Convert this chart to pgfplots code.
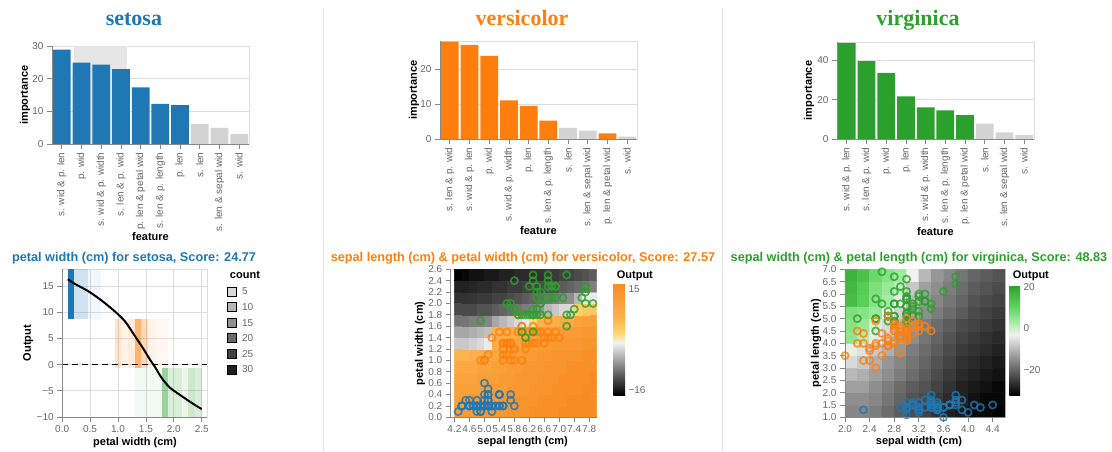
\documentclass[border=0pt]{standalone}
\usepackage{fontspec}
\setmainfont{Liberation Sans}
\newfontfamily\serif{Liberation Serif}
\usepackage{pgfplots}
\usepackage{pgfplotstable}
\pgfplotsset{compat=1.18}
\usetikzlibrary{calc}

\definecolor{setc}{RGB}{31,119,180}
\definecolor{verc}{RGB}{255,127,14}
\definecolor{virc}{RGB}{44,160,44}
\definecolor{barg}{RGB}{211,211,211}
\definecolor{gridc}{RGB}{221,221,221}
\definecolor{domc}{RGB}{136,136,136}
\definecolor{labc}{RGB}{102,102,102}
\definecolor{band}{RGB}{230,230,230}
\definecolor{sepc}{RGB}{228,228,228}

\newcommand\tickfont{\fontsize{10}{12}\selectfont}
\newcommand\labfont{\fontsize{11}{13}\selectfont\bfseries}
\newcommand\ttlfont{\fontsize{22}{26}\selectfont\serif\bfseries}
\newcommand\subfont{\fontsize{12.7}{15}\selectfont\bfseries}

\pgfplotsset{
  base/.style={
    scale only axis,
    axis line style={draw=gridc, line width=0.8pt},
    tick style={draw=domc, line width=0.8pt},
    tick align=outside, major tick length=5pt,
    tick pos=left,
    ticklabel style={font=\tickfont, text=labc},
    label style={font=\labfont},
    grid style={draw=gridc, line width=0.8pt},
    title style={anchor=base, yshift=-6pt},
    colorbar shift/.style={},
    after end axis/.code={\draw[domc, line width=0.8pt] (rel axis cs:0,1) -- (rel axis cs:0,0) -- (rel axis cs:1,0);},
  },
  barax/.style={
    base, width=197pt, xmin=-0.5, xmax=9.5, ymin=0, ymajorgrids,
    xtick={0,1,2,3,4,5,6,7,8,9},
    xticklabel style={rotate=90, anchor=east},
    xlabel=feature, ylabel=importance,
    title style={font=\ttlfont},
  },
  bars/.style={ybar, bar width=0.9, bar shift=0pt, draw=none, fill=#1},
  pts/.style={only marks, mark=o, mark size=3.6pt, mark options={draw=#1, draw opacity=0.8, line width=1.7pt, fill=none}},
  cnt/.style={legend image code/.code={\fill[black, fill opacity=#1] (0pt,-3.5pt) rectangle (9pt,5.5pt); \path (14.5pt,0pt);}},
}

\pgfplotstableread{
sl sw pl pw
5.1 3.5 1.4 0.2
4.9 3.0 1.4 0.2
4.7 3.2 1.3 0.2
4.6 3.1 1.5 0.2
5.0 3.6 1.4 0.2
5.4 3.9 1.7 0.4
4.6 3.4 1.4 0.3
5.0 3.4 1.5 0.2
4.4 2.9 1.4 0.2
4.9 3.1 1.5 0.1
5.4 3.7 1.5 0.2
4.8 3.4 1.6 0.2
4.8 3.0 1.4 0.1
4.3 3.0 1.1 0.1
5.8 4.0 1.2 0.2
5.7 4.4 1.5 0.4
5.4 3.9 1.3 0.4
5.1 3.5 1.4 0.3
5.7 3.8 1.7 0.3
5.1 3.8 1.5 0.3
5.4 3.4 1.7 0.2
5.1 3.7 1.5 0.4
4.6 3.6 1.0 0.2
5.1 3.3 1.7 0.5
4.8 3.4 1.9 0.2
5.0 3.0 1.6 0.2
5.0 3.4 1.6 0.4
5.2 3.5 1.5 0.2
5.2 3.4 1.4 0.2
4.7 3.2 1.6 0.2
4.8 3.1 1.6 0.2
5.4 3.4 1.5 0.4
5.2 4.1 1.5 0.1
5.5 4.2 1.4 0.2
4.9 3.1 1.5 0.2
5.0 3.2 1.2 0.2
5.5 3.5 1.3 0.2
4.9 3.6 1.4 0.1
4.4 3.0 1.3 0.2
5.1 3.4 1.5 0.2
5.0 3.5 1.3 0.3
4.5 2.3 1.3 0.3
4.4 3.2 1.3 0.2
5.0 3.5 1.6 0.6
5.1 3.8 1.9 0.4
4.8 3.0 1.4 0.3
5.1 3.8 1.6 0.2
4.6 3.2 1.4 0.2
5.3 3.7 1.5 0.2
5.0 3.3 1.4 0.2
}\setosa

\pgfplotstableread{
sl sw pl pw
7.0 3.2 4.7 1.4
6.4 3.2 4.5 1.5
6.9 3.1 4.9 1.5
5.5 2.3 4.0 1.3
6.5 2.8 4.6 1.5
5.7 2.8 4.5 1.3
6.3 3.3 4.7 1.6
4.9 2.4 3.3 1.0
6.6 2.9 4.6 1.3
5.2 2.7 3.9 1.4
5.0 2.0 3.5 1.0
5.9 3.0 4.2 1.5
6.0 2.2 4.0 1.0
6.1 2.9 4.7 1.4
5.6 2.9 3.6 1.3
6.7 3.1 4.4 1.4
5.6 3.0 4.5 1.5
5.8 2.7 4.1 1.0
6.2 2.2 4.5 1.5
5.6 2.5 3.9 1.1
5.9 3.2 4.8 1.8
6.1 2.8 4.0 1.3
6.3 2.5 4.9 1.5
6.1 2.8 4.7 1.2
6.4 2.9 4.3 1.3
6.6 3.0 4.4 1.4
6.8 2.8 4.8 1.4
6.7 3.0 5.0 1.7
6.0 2.9 4.5 1.5
5.7 2.6 3.5 1.0
5.5 2.4 3.8 1.1
5.5 2.4 3.7 1.0
5.8 2.7 3.9 1.2
6.0 2.7 5.1 1.6
5.4 3.0 4.5 1.5
6.0 3.4 4.5 1.6
6.7 3.1 4.7 1.5
6.3 2.3 4.4 1.3
5.6 3.0 4.1 1.3
5.5 2.5 4.0 1.3
5.5 2.6 4.4 1.2
6.1 3.0 4.6 1.4
5.8 2.6 4.0 1.2
5.0 2.3 3.3 1.0
5.6 2.7 4.2 1.3
5.7 3.0 4.2 1.2
5.7 2.9 4.2 1.3
6.2 2.9 4.3 1.3
5.1 2.5 3.0 1.1
5.7 2.8 4.1 1.3
}\versicolor

\pgfplotstableread{
sl sw pl pw
6.3 3.3 6.0 2.5
5.8 2.7 5.1 1.9
7.1 3.0 5.9 2.1
6.3 2.9 5.6 1.8
6.5 3.0 5.8 2.2
7.6 3.0 6.6 2.1
4.9 2.5 4.5 1.7
7.3 2.9 6.3 1.8
6.7 2.5 5.8 1.8
7.2 3.6 6.1 2.5
6.5 3.2 5.1 2.0
6.4 2.7 5.3 1.9
6.8 3.0 5.5 2.1
5.7 2.5 5.0 2.0
5.8 2.8 5.1 2.4
6.4 3.2 5.3 2.3
6.5 3.0 5.5 1.8
7.7 3.8 6.7 2.2
7.7 2.6 6.9 2.3
6.0 2.2 5.0 1.5
6.9 3.2 5.7 2.3
5.6 2.8 4.9 2.0
7.7 2.8 6.7 2.0
6.3 2.7 4.9 1.8
6.7 3.3 5.7 2.1
7.2 3.2 6.0 1.8
6.2 2.8 4.8 1.8
6.1 3.0 4.9 1.8
6.4 2.8 5.6 2.1
7.2 3.0 5.8 1.6
7.4 2.8 6.1 1.9
7.9 3.8 6.4 2.0
6.4 2.8 5.6 2.2
6.3 2.8 5.1 1.5
6.1 2.6 5.6 1.4
7.7 3.0 6.1 2.3
6.3 3.4 5.6 2.4
6.4 3.1 5.5 1.8
6.0 3.0 4.8 1.8
6.9 3.1 5.4 2.1
6.7 3.1 5.6 2.4
6.9 3.1 5.1 2.3
5.8 2.7 5.1 1.9
6.8 3.2 5.9 2.3
6.7 3.3 5.7 2.5
6.7 3.0 5.2 2.3
6.3 2.5 5.0 1.9
6.5 3.0 5.2 2.0
6.2 3.4 5.4 2.3
5.9 3.0 5.1 1.8
}\virginica

\begin{document}
\begin{tikzpicture}
\path[use as bounding box] (0pt,0pt) rectangle (1112pt,-452pt);
\draw[sepc, line width=1pt] (323pt,-8pt) -- (323pt,-452pt);
\draw[sepc, line width=1pt] (722pt,-8pt) -- (722pt,-452pt);

% ---------- A: setosa bars
\begin{axis}[barax, at={(52pt,-144pt)}, anchor=south west, height=98pt,
  ymax=30, ytick={0,10,20,30}, yticklabels={0,10,20,30},
  xticklabels={s. wid \& p. len, p. wid, s. wid \& p. width, s. len \& p. wid, p. len \& petal wid, s. len \& p. length, p. len, s. len, s. len \& sepal wid, s. wid},
  title=setosa, title style={at={(axis description cs:0.416,1.214)}, text=setc},
  xlabel style={at={(axis description cs:0.5,-0.949)}, anchor=center},
  ylabel style={at={(axis description cs:-0.137,0.5)}, anchor=center}]
\addplot[fill=band, draw=none] coordinates {(0.62,30) (3.3,30)} \closedcycle;
\addplot[bars=setc] coordinates {(0,28.9) (1,24.9) (2,24.3) (3,22.9) (4,17.3) (5,12.3) (6,11.9)};
\addplot[bars=barg] coordinates {(7,6.1) (8,4.95) (9,3.0)};
\end{axis}

% ---------- B: versicolor bars
\begin{axis}[barax, at={(440pt,-139pt)}, anchor=south west, height=98pt,
  ymax=28.2, ytick={0,10,20}, yticklabels={0,10,20},
  xticklabels={s. len \& p. wid, s. wid \& p. len, p. wid, s. wid \& p. width, p. len, s. len \& p. length, s. len, s. len \& sepal wid, p. len \& petal wid, s. wid},
  title=versicolor, title style={at={(axis description cs:0.416,1.163)}, text=verc},
  xlabel style={at={(axis description cs:0.5,-0.939)}, anchor=center},
  ylabel style={at={(axis description cs:-0.132,0.5)}, anchor=center}]
\addplot[bars=verc] coordinates {(0,28.0) (1,27.1) (2,23.9) (3,11.1) (4,9.5) (5,5.3) (8,1.6)};
\addplot[bars=barg] coordinates {(6,3.2) (7,2.4) (9,0.7)};
\end{axis}

% ---------- C: virginica bars
\begin{axis}[barax, at={(837pt,-139pt)}, anchor=south west, height=97pt,
  ymax=49.4, ytick={0,20,40}, yticklabels={0,20,40},
  xticklabels={s. wid \& p. len, s. len \& p. wid, p. wid, p. len, s. wid \& p. width, s. len \& p. length, p. len \& petal wid, s. len, s. len \& sepal wid, s. wid},
  title=virginica, title style={at={(axis description cs:0.411,1.175)}, text=virc},
  xlabel style={at={(axis description cs:0.5,-0.959)}, anchor=center},
  ylabel style={at={(axis description cs:-0.142,0.5)}, anchor=center}]
\addplot[bars=virc] coordinates {(0,49.0) (1,39.7) (2,33.7) (3,21.7) (4,16.1) (5,14.6) (6,12.2)};
\addplot[bars=barg] coordinates {(7,7.8) (8,3.4) (9,2.0)};
\end{axis}

% ---------- D: petal width shape function
\begin{axis}[base, at={(62.2pt,-417pt)}, anchor=south west, width=145.1pt, height=147.7pt,
  xmin=0, xmax=2.6, ymin=-10, ymax=18.2,
  xtick={0,0.5,1,1.5,2,2.5}, xticklabels={0.0,0.5,1.0,1.5,2.0,2.5},
  ytick={-10,-5,0,5,10,15}, yticklabels={−10,−5,0,5,10,15},
  xmajorgrids, ymajorgrids,
  xlabel={petal width (cm)}, ylabel=Output,
  title={petal width (cm) for setosa, Score: 24.77},
  title style={at={(axis description cs:0.495,1.054)}, font=\subfont, text=setc},
  xlabel style={at={(axis description cs:0.502,-0.176)}, anchor=center},
  ylabel style={at={(axis description cs:-0.234,0.5)}, anchor=center},
  legend style={at={(axis description cs:1.136,0.884)}, anchor=north west, draw=none, fill=none,
    inner sep=0pt, row sep=4.4pt, nodes={font=\tickfont, text=labc, inner sep=0pt, text height=8pt, text depth=3pt}},
  legend cell align=left,
  extra description/.code={\node[anchor=west, font=\labfont] at (axis description cs:1.132,0.961) {count};}]
% setosa bins
\addplot[forget plot, draw=none, fill=setc, fill opacity=1.0] coordinates {(0.10,8.8) (0.22,8.8) (0.22,18.2) (0.10,18.2)} -- cycle;
\addplot[forget plot, draw=none, fill=setc, fill opacity=0.21] coordinates {(0.22,8.8) (0.34,8.8) (0.34,18.2) (0.22,18.2)} -- cycle;
\addplot[forget plot, draw=none, fill=setc, fill opacity=0.21] coordinates {(0.34,8.8) (0.46,8.8) (0.46,18.2) (0.34,18.2)} -- cycle;
\addplot[forget plot, draw=none, fill=setc, fill opacity=0.06] coordinates {(0.46,8.8) (0.58,8.8) (0.58,18.2) (0.46,18.2)} -- cycle;
\addplot[forget plot, draw=none, fill=setc, fill opacity=0.06] coordinates {(0.58,8.8) (0.70,8.8) (0.70,18.2) (0.58,18.2)} -- cycle;
% versicolor bins
\addplot[forget plot, draw=none, fill=verc, fill opacity=0.21] coordinates {(0.94,-0.6) (1.06,-0.6) (1.06,8.8) (0.94,8.8)} -- cycle;
\addplot[forget plot, draw=none, fill=verc, fill opacity=0.09] coordinates {(1.06,-0.6) (1.18,-0.6) (1.18,8.8) (1.06,8.8)} -- cycle;
\addplot[forget plot, draw=none, fill=verc, fill opacity=0.15] coordinates {(1.18,-0.6) (1.30,-0.6) (1.30,8.8) (1.18,8.8)} -- cycle;
\addplot[forget plot, draw=none, fill=verc, fill opacity=0.59] coordinates {(1.30,-0.6) (1.42,-0.6) (1.42,8.8) (1.30,8.8)} -- cycle;
\addplot[forget plot, draw=none, fill=verc, fill opacity=0.29] coordinates {(1.42,-0.6) (1.54,-0.6) (1.54,8.8) (1.42,8.8)} -- cycle;
\addplot[forget plot, draw=none, fill=verc, fill opacity=0.09] coordinates {(1.54,-0.6) (1.66,-0.6) (1.66,8.8) (1.54,8.8)} -- cycle;
\addplot[forget plot, draw=none, fill=verc, fill opacity=0.06] coordinates {(1.66,-0.6) (1.78,-0.6) (1.78,8.8) (1.66,8.8)} -- cycle;
\addplot[forget plot, draw=none, fill=verc, fill opacity=0.06] coordinates {(1.78,-0.6) (1.90,-0.6) (1.90,8.8) (1.78,8.8)} -- cycle;
% virginica bins
\addplot[forget plot, draw=none, fill=virc, fill opacity=0.06] coordinates {(1.30,-10) (1.42,-10) (1.42,-0.6) (1.30,-0.6)} -- cycle;
\addplot[forget plot, draw=none, fill=virc, fill opacity=0.06] coordinates {(1.42,-10) (1.54,-10) (1.54,-0.6) (1.42,-0.6)} -- cycle;
\addplot[forget plot, draw=none, fill=virc, fill opacity=0.06] coordinates {(1.54,-10) (1.66,-10) (1.66,-0.6) (1.54,-0.6)} -- cycle;
\addplot[forget plot, draw=none, fill=virc, fill opacity=0.06] coordinates {(1.66,-10) (1.78,-10) (1.78,-0.6) (1.66,-0.6)} -- cycle;
\addplot[forget plot, draw=none, fill=virc, fill opacity=0.47] coordinates {(1.78,-10) (1.90,-10) (1.90,-0.6) (1.78,-0.6)} -- cycle;
\addplot[forget plot, draw=none, fill=virc, fill opacity=0.18] coordinates {(1.90,-10) (2.02,-10) (2.02,-0.6) (1.90,-0.6)} -- cycle;
\addplot[forget plot, draw=none, fill=virc, fill opacity=0.18] coordinates {(2.02,-10) (2.14,-10) (2.14,-0.6) (2.02,-0.6)} -- cycle;
\addplot[forget plot, draw=none, fill=virc, fill opacity=0.09] coordinates {(2.14,-10) (2.26,-10) (2.26,-0.6) (2.14,-0.6)} -- cycle;
\addplot[forget plot, draw=none, fill=virc, fill opacity=0.24] coordinates {(2.26,-10) (2.38,-10) (2.38,-0.6) (2.26,-0.6)} -- cycle;
\addplot[forget plot, draw=none, fill=virc, fill opacity=0.18] coordinates {(2.38,-10) (2.50,-10) (2.50,-0.6) (2.38,-0.6)} -- cycle;
% zero line and shape curve
\addplot[forget plot, black, line width=1.3pt, dash pattern=on 6pt off 4pt] coordinates {(0,0) (2.6,0)};
\addplot[forget plot, black, line width=2pt, smooth, tension=0.5] coordinates {(0.1,16.3) (0.23,15.4) (0.47,14.0) (0.71,12.2) (0.95,10.1) (1.13,8.2) (1.30,5.5) (1.45,3.1) (1.57,1.0) (1.66,-0.4) (1.78,-2.5) (1.93,-4.4) (2.14,-6.0) (2.32,-7.3) (2.5,-8.5)};
% count legend
\addlegendimage{cnt=0.15}
\addlegendentry{5}
\addlegendimage{cnt=0.29}
\addlegendentry{10}
\addlegendimage{cnt=0.44}
\addlegendentry{15}
\addlegendimage{cnt=0.59}
\addlegendentry{20}
\addlegendimage{cnt=0.74}
\addlegendentry{25}
\addlegendimage{cnt=0.88}
\addlegendentry{30}
\end{axis}

% ---------- E: sepal length x petal width (versicolor)
\begin{axis}[base, at={(450.7pt,-417.3pt)}, anchor=south west, width=146pt, height=148pt,
  xmin=4.1, xmax=8.0, ymin=0, ymax=2.6, clip=false,
  xtick={4.2,4.6,5.0,5.4,5.8,6.2,6.6,7.0,7.4,7.8}, xticklabels={4.2,4.6,5.0,5.4,5.8,6.2,6.6,7.0,7.4,7.8},
  ytick={0,0.2,0.4,0.6,0.8,1.0,1.2,1.4,1.6,1.8,2.0,2.2,2.4,2.6},
  yticklabels={0.0,0.2,0.4,0.6,0.8,1.0,1.2,1.4,1.6,1.8,2.0,2.2,2.4,2.6},
  xlabel={sepal length (cm)}, ylabel={petal width (cm)},
  title={sepal length (cm) \& petal width (cm) for versicolor, Score: 27.57},
  title style={at={(axis description cs:0.495,1.054)}, font=\subfont, text=verc},
  xlabel style={at={(axis description cs:0.493,-0.165)}, anchor=center},
  ylabel style={at={(axis description cs:-0.21,0.5)}, anchor=center},
  colormap={orng}{rgb255(0pt)=(0,0,0) rgb255(14.5pt)=(242,242,242) rgb255(17pt)=(254,218,118) rgb255(21pt)=(253,180,80) rgb255(31pt)=(247,140,35)},
  point meta min=-16, point meta max=15,
  colorbar,
  colorbar style={scale only axis, at={($(parent axis.north east)+(16.6pt,-14pt)$)}, anchor=north west, xshift=0pt,
    width=11.7pt, height=111.7pt, ytick={-14.6,13.3}, yticklabels={−16,15}, major tick length=0pt,
    axis line style={draw=none}, yticklabel style={font=\tickfont, text=labc},
    title=Output, title style={at={(0,1)}, anchor=west, yshift=1.3pt, font=\labfont}}]
\addplot[matrix plot*, mesh/cols=19, point meta=explicit] table[x=x, y=y, meta=c, row sep=\\] {
x y c\\
4.3 0.1 11\\ 4.5 0.1 11\\ 4.7 0.1 11\\ 4.9 0.1 11\\ 5.1 0.1 12\\ 5.3 0.1 12\\ 5.5 0.1 12\\ 5.7 0.1 13\\ 5.9 0.1 13\\ 6.1 0.1 13\\ 6.3 0.1 14\\ 6.5 0.1 14\\ 6.7 0.1 14\\ 6.9 0.1 14\\ 7.1 0.1 15\\ 7.3 0.1 15\\ 7.5 0.1 15\\ 7.7 0.1 15\\ 7.9 0.1 15\\
4.3 0.3 10\\ 4.5 0.3 10\\ 4.7 0.3 11\\ 4.9 0.3 11\\ 5.1 0.3 11\\ 5.3 0.3 12\\ 5.5 0.3 12\\ 5.7 0.3 12\\ 5.9 0.3 13\\ 6.1 0.3 13\\ 6.3 0.3 13\\ 6.5 0.3 14\\ 6.7 0.3 14\\ 6.9 0.3 14\\ 7.1 0.3 14\\ 7.3 0.3 15\\ 7.5 0.3 15\\ 7.7 0.3 15\\ 7.9 0.3 15\\
4.3 0.5 10\\ 4.5 0.5 10\\ 4.7 0.5 10\\ 4.9 0.5 10\\ 5.1 0.5 11\\ 5.3 0.5 11\\ 5.5 0.5 11\\ 5.7 0.5 12\\ 5.9 0.5 12\\ 6.1 0.5 12\\ 6.3 0.5 13\\ 6.5 0.5 13\\ 6.7 0.5 13\\ 6.9 0.5 14\\ 7.1 0.5 14\\ 7.3 0.5 14\\ 7.5 0.5 14\\ 7.7 0.5 15\\ 7.9 0.5 15\\
4.3 0.7 9\\ 4.5 0.7 9\\ 4.7 0.7 9\\ 4.9 0.7 10\\ 5.1 0.7 10\\ 5.3 0.7 10\\ 5.5 0.7 11\\ 5.7 0.7 11\\ 5.9 0.7 12\\ 6.1 0.7 12\\ 6.3 0.7 12\\ 6.5 0.7 13\\ 6.7 0.7 13\\ 6.9 0.7 13\\ 7.1 0.7 14\\ 7.3 0.7 14\\ 7.5 0.7 14\\ 7.7 0.7 14\\ 7.9 0.7 15\\
4.3 0.9 8\\ 4.5 0.9 8\\ 4.7 0.9 8\\ 4.9 0.9 9\\ 5.1 0.9 9\\ 5.3 0.9 10\\ 5.5 0.9 10\\ 5.7 0.9 11\\ 5.9 0.9 11\\ 6.1 0.9 12\\ 6.3 0.9 12\\ 6.5 0.9 12\\ 6.7 0.9 13\\ 6.9 0.9 13\\ 7.1 0.9 13\\ 7.3 0.9 14\\ 7.5 0.9 14\\ 7.7 0.9 14\\ 7.9 0.9 14\\
4.3 1.1 5\\ 4.5 1.1 5\\ 4.7 1.1 6\\ 4.9 1.1 6\\ 5.1 1.1 7\\ 5.3 1.1 8\\ 5.5 1.1 9\\ 5.7 1.1 10\\ 5.9 1.1 10\\ 6.1 1.1 11\\ 6.3 1.1 11\\ 6.5 1.1 12\\ 6.7 1.1 12\\ 6.9 1.1 13\\ 7.1 1.1 13\\ 7.3 1.1 13\\ 7.5 1.1 13\\ 7.7 1.1 14\\ 7.9 1.1 14\\
4.3 1.3 -4\\ 4.5 1.3 -4\\ 4.7 1.3 -3.5\\ 4.9 1.3 -3\\ 5.1 1.3 -2\\ 5.3 1.3 7\\ 5.5 1.3 8\\ 5.7 1.3 9\\ 5.9 1.3 9\\ 6.1 1.3 10\\ 6.3 1.3 10\\ 6.5 1.3 11\\ 6.7 1.3 11\\ 6.9 1.3 12\\ 7.1 1.3 12\\ 7.3 1.3 12\\ 7.5 1.3 12\\ 7.7 1.3 13\\ 7.9 1.3 13\\
4.3 1.5 -6\\ 4.5 1.5 -6\\ 4.7 1.5 -5.5\\ 4.9 1.5 -5\\ 5.1 1.5 -4.5\\ 5.3 1.5 5\\ 5.5 1.5 6\\ 5.7 1.5 7\\ 5.9 1.5 7\\ 6.1 1.5 8\\ 6.3 1.5 9\\ 6.5 1.5 10\\ 6.7 1.5 10\\ 6.9 1.5 10\\ 7.1 1.5 11\\ 7.3 1.5 11\\ 7.5 1.5 11\\ 7.7 1.5 12\\ 7.9 1.5 12\\
4.3 1.7 -9\\ 4.5 1.7 -9\\ 4.7 1.7 -8.5\\ 4.9 1.7 -8.5\\ 5.1 1.7 -8\\ 5.3 1.7 -6\\ 5.5 1.7 -5\\ 5.7 1.7 -4\\ 5.9 1.7 -3\\ 6.1 1.7 -2\\ 6.3 1.7 1\\ 6.5 1.7 5\\ 6.7 1.7 6\\ 6.9 1.7 6\\ 7.1 1.7 7\\ 7.3 1.7 7\\ 7.5 1.7 9\\ 7.7 1.7 10\\ 7.9 1.7 10\\
4.3 1.9 -11.5\\ 4.5 1.9 -11.5\\ 4.7 1.9 -11.5\\ 4.9 1.9 -11\\ 5.1 1.9 -11\\ 5.3 1.9 -10.5\\ 5.5 1.9 -10\\ 5.7 1.9 -9.5\\ 5.9 1.9 -9\\ 6.1 1.9 -8.5\\ 6.3 1.9 -8\\ 6.5 1.9 -7\\ 6.7 1.9 -5\\ 6.9 1.9 -4\\ 7.1 1.9 -3\\ 7.3 1.9 -3\\ 7.5 1.9 2\\ 7.7 1.9 3\\ 7.9 1.9 3\\
4.3 2.1 -13\\ 4.5 2.1 -13\\ 4.7 2.1 -12.8\\ 4.9 2.1 -12.5\\ 5.1 2.1 -12.5\\ 5.3 2.1 -12\\ 5.5 2.1 -12\\ 5.7 2.1 -11.5\\ 5.9 2.1 -11\\ 6.1 2.1 -10.5\\ 6.3 2.1 -10\\ 6.5 2.1 -9.5\\ 6.7 2.1 -9\\ 6.9 2.1 -8.5\\ 7.1 2.1 -8\\ 7.3 2.1 -7.5\\ 7.5 2.1 -5\\ 7.7 2.1 -2\\ 7.9 2.1 -2\\
4.3 2.3 -14\\ 4.5 2.3 -14\\ 4.7 2.3 -13.8\\ 4.9 2.3 -13.5\\ 5.1 2.3 -13.5\\ 5.3 2.3 -13\\ 5.5 2.3 -13\\ 5.7 2.3 -12.5\\ 5.9 2.3 -12.5\\ 6.1 2.3 -12\\ 6.3 2.3 -12\\ 6.5 2.3 -11.5\\ 6.7 2.3 -11\\ 6.9 2.3 -11\\ 7.1 2.3 -10.5\\ 7.3 2.3 -10\\ 7.5 2.3 -9.5\\ 7.7 2.3 -9\\ 7.9 2.3 -8.5\\
4.3 2.5 -16\\ 4.5 2.5 -15.5\\ 4.7 2.5 -15\\ 4.9 2.5 -15\\ 5.1 2.5 -14.5\\ 5.3 2.5 -14.5\\ 5.5 2.5 -14\\ 5.7 2.5 -14\\ 5.9 2.5 -13.5\\ 6.1 2.5 -13.5\\ 6.3 2.5 -13\\ 6.5 2.5 -13\\ 6.7 2.5 -12.5\\ 6.9 2.5 -12.5\\ 7.1 2.5 -12\\ 7.3 2.5 -12\\ 7.5 2.5 -11.5\\ 7.7 2.5 -11\\ 7.9 2.5 -10.5\\
};
\addplot[pts=setc] table[x=sl, y=pw] {\setosa};
\addplot[pts=verc] table[x=sl, y=pw] {\versicolor};
\addplot[pts=virc] table[x=sl, y=pw] {\virginica};
\end{axis}

% ---------- F: sepal width x petal length (virginica)
\begin{axis}[base, at={(845pt,-417.3pt)}, anchor=south west, width=160pt, height=148pt,
  xmin=2.0, xmax=4.6, ymin=1, ymax=7, clip=false,
  xtick={2.0,2.4,2.8,3.2,3.6,4.0,4.4}, xticklabels={2.0,2.4,2.8,3.2,3.6,4.0,4.4},
  ytick={1,1.5,2,2.5,3,3.5,4,4.5,5,5.5,6,6.5,7},
  yticklabels={1.0,1.5,2.0,2.5,3.0,3.5,4.0,4.5,5.0,5.5,6.0,6.5,7.0},
  xlabel={sepal width (cm)}, ylabel={petal length (cm)},
  title={sepal width (cm) \& petal length (cm) for virginica, Score: 48.83},
  title style={at={(axis description cs:0.4625,1.054)}, font=\subfont, text=virc},
  xlabel style={at={(axis description cs:0.4625,-0.165)}, anchor=center},
  ylabel style={at={(axis description cs:-0.181,0.5)}, anchor=center},
  colormap={grn}{rgb255(0pt)=(0,0,0) rgb255(29pt)=(242,242,242) rgb255(34.6pt)=(166,238,166) rgb255(42.5pt)=(92,212,92) rgb255(52.8pt)=(44,160,44)},
  point meta min=-32, point meta max=20.8,
  colorbar,
  colorbar style={scale only axis, at={($(parent axis.north east)+(4.3pt,-15.7pt)$)}, anchor=north west, xshift=0pt,
    width=10.7pt, height=110pt, ytick={-20,0,20}, yticklabels={−20,0,20}, major tick length=0pt,
    axis line style={draw=none}, yticklabel style={font=\tickfont, text=labc},
    title=Output, title style={at={(0,1)}, anchor=west, yshift=3pt, font=\labfont}}]
\addplot[matrix plot*, mesh/cols=13, point meta=explicit] table[x=x, y=y, meta=c, row sep=\\] {
x y c\\
2.1 1.25 -16\\ 2.3 1.25 -16\\ 2.5 1.25 -17\\ 2.7 1.25 -19\\ 2.9 1.25 -21\\ 3.1 1.25 -23\\ 3.3 1.25 -24\\ 3.5 1.25 -26\\ 3.7 1.25 -28\\ 3.9 1.25 -29\\ 4.1 1.25 -31\\ 4.3 1.25 -31\\ 4.5 1.25 -32\\
2.1 1.75 -15\\ 2.3 1.75 -15\\ 2.5 1.75 -16\\ 2.7 1.75 -18\\ 2.9 1.75 -20\\ 3.1 1.75 -22\\ 3.3 1.75 -23\\ 3.5 1.75 -25\\ 3.7 1.75 -27\\ 3.9 1.75 -28\\ 4.1 1.75 -30\\ 4.3 1.75 -31\\ 4.5 1.75 -31\\
2.1 2.25 -13\\ 2.3 2.25 -13\\ 2.5 2.25 -15\\ 2.7 2.25 -17\\ 2.9 2.25 -19\\ 3.1 2.25 -21\\ 3.3 2.25 -22\\ 3.5 2.25 -24\\ 3.7 2.25 -26\\ 3.9 2.25 -28\\ 4.1 2.25 -29\\ 4.3 2.25 -30\\ 4.5 2.25 -31\\
2.1 2.75 -10\\ 2.3 2.75 -11\\ 2.5 2.75 -13\\ 2.7 2.75 -15\\ 2.9 2.75 -17\\ 3.1 2.75 -19\\ 3.3 2.75 -21\\ 3.5 2.75 -23\\ 3.7 2.75 -25\\ 3.9 2.75 -27\\ 4.1 2.75 -28\\ 4.3 2.75 -29\\ 4.5 2.75 -30\\
2.1 3.25 -6\\ 2.3 3.25 -8\\ 2.5 3.25 -11\\ 2.7 3.25 -14\\ 2.9 3.25 -16\\ 3.1 3.25 -18\\ 3.3 3.25 -20\\ 3.5 3.25 -22\\ 3.7 3.25 -24\\ 3.9 3.25 -26\\ 4.1 3.25 -27\\ 4.3 3.25 -28\\ 4.5 3.25 -29\\
2.1 3.75 -2\\ 2.3 3.75 -5\\ 2.5 3.75 -8\\ 2.7 3.75 -11\\ 2.9 3.75 -14\\ 3.1 3.75 -17\\ 3.3 3.75 -19\\ 3.5 3.75 -21\\ 3.7 3.75 -23\\ 3.9 3.75 -25\\ 4.1 3.75 -26\\ 4.3 3.75 -27\\ 4.5 3.75 -28\\
2.1 4.25 5\\ 2.3 4.25 2\\ 2.5 4.25 -4\\ 2.7 4.25 -8\\ 2.9 4.25 -12\\ 3.1 4.25 -15\\ 3.3 4.25 -18\\ 3.5 4.25 -20\\ 3.7 4.25 -22\\ 3.9 4.25 -24\\ 4.1 4.25 -25\\ 4.3 4.25 -26\\ 4.5 4.25 -27\\
2.1 4.75 6\\ 2.3 4.75 4\\ 2.5 4.75 -1\\ 2.7 4.75 -6\\ 2.9 4.75 -10\\ 3.1 4.75 -14\\ 3.3 4.75 -17\\ 3.5 4.75 -19\\ 3.7 4.75 -21\\ 3.9 4.75 -23\\ 4.1 4.75 -24\\ 4.3 4.75 -25\\ 4.5 4.75 -26\\
2.1 5.25 7\\ 2.3 5.25 6\\ 2.5 5.25 4\\ 2.7 5.25 -3\\ 2.9 5.25 -7\\ 3.1 5.25 -12\\ 3.3 5.25 -15\\ 3.5 5.25 -17\\ 3.7 5.25 -19\\ 3.9 5.25 -21\\ 4.1 5.25 -23\\ 4.3 5.25 -24\\ 4.5 5.25 -25\\
2.1 5.75 15\\ 2.3 5.75 11\\ 2.5 5.75 6\\ 2.7 5.75 3\\ 2.9 5.75 -4\\ 3.1 5.75 -10\\ 3.3 5.75 -14\\ 3.5 5.75 -16\\ 3.7 5.75 -18\\ 3.9 5.75 -20\\ 4.1 5.75 -22\\ 4.3 5.75 -23\\ 4.5 5.75 -24\\
2.1 6.25 16\\ 2.3 6.25 12\\ 2.5 6.25 7\\ 2.7 6.25 4\\ 2.9 6.25 1\\ 3.1 6.25 -8\\ 3.3 6.25 -13\\ 3.5 6.25 -15\\ 3.7 6.25 -17\\ 3.9 6.25 -19\\ 4.1 6.25 -21\\ 4.3 6.25 -22\\ 4.5 6.25 -23\\
2.1 6.75 17\\ 2.3 6.75 14\\ 2.5 6.75 9\\ 2.7 6.75 6\\ 2.9 6.75 3.5\\ 3.1 6.75 -3\\ 3.3 6.75 -10\\ 3.5 6.75 -14\\ 3.7 6.75 -16\\ 3.9 6.75 -18\\ 4.1 6.75 -20\\ 4.3 6.75 -21\\ 4.5 6.75 -22\\
};
\addplot[pts=setc] table[x=sw, y=pl] {\setosa};
\addplot[pts=virc] table[x=sw, y=pl] {\virginica};
\addplot[pts=verc] table[x=sw, y=pl] {\versicolor};
\end{axis}
\end{tikzpicture}
\end{document}
